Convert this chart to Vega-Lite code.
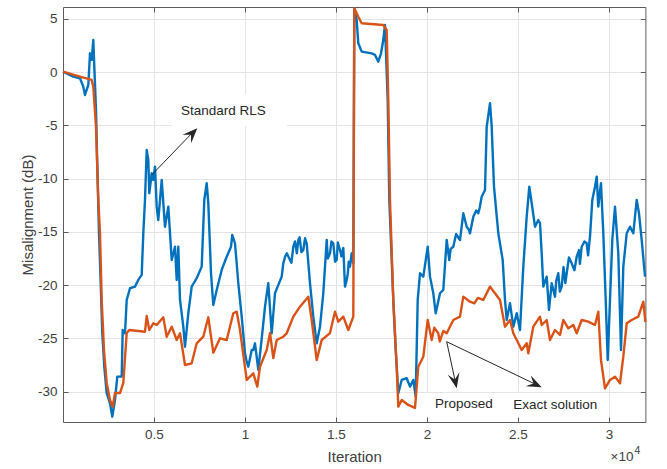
{
  "$schema": "https://vega.github.io/schema/vega-lite/v6.json",
  "width": 582.4,
  "height": 415,
  "autosize": {"type": "none"},
  "padding": {"left": 63, "top": 7, "right": 21.6, "bottom": 47},
  "background": "white",
  "config": {
    "view": {"stroke": null},
    "font": "Liberation Sans",
    "axis": {"labelFont": "Liberation Sans", "titleFont": "Liberation Sans"}
  },
  "datasets": {
    "rls": [
      {"x":0,"y":0.05},{"x":566,"y":-0.42},{"x":934,"y":-0.57},{"x":1115,"y":-1.36},{"x":1209,"y":-2.14},{"x":1390,"y":-1.2},{"x":1484,"y":1.77},{"x":1577,"y":1.15},{"x":1665,"y":3.02},{"x":1720,"y":0.52},{"x":1813,"y":-3.55},{"x":1885,"y":-8.87},{"x":1978,"y":-15.13},{"x":2071,"y":-19.82},{"x":2159,"y":-24.52},{"x":2269,"y":-27.66},{"x":2401,"y":-30.15},{"x":2582,"y":-31.09},{"x":2709,"y":-32.35},{"x":2857,"y":-30.78},{"x":2983,"y":-28.59},{"x":3225,"y":-28.59},{"x":3280,"y":-24.21},{"x":3407,"y":-24.52},{"x":3500,"y":-21.39},{"x":3681,"y":-20.29},{"x":3956,"y":-20.14},{"x":4137,"y":-19.51},{"x":4324,"y":-19.04},{"x":4412,"y":-15.13},{"x":4505,"y":-12.0},{"x":4599,"y":-7.31},{"x":4687,"y":-8.24},{"x":4742,"y":-11.37},{"x":4874,"y":-9.49},{"x":4962,"y":-10.12},{"x":5055,"y":-8.87},{"x":5148,"y":-12.63},{"x":5236,"y":-13.88},{"x":5423,"y":-10.12},{"x":5604,"y":-14.51},{"x":5786,"y":-12.63},{"x":5973,"y":-17.64},{"x":6154,"y":-16.39},{"x":6247,"y":-19.51},{"x":6335,"y":-16.39},{"x":6429,"y":-21.39},{"x":6610,"y":-23.9},{"x":6703,"y":-25.78},{"x":6885,"y":-22.64},{"x":7071,"y":-20.14},{"x":7346,"y":-19.35},{"x":7621,"y":-18.26},{"x":7764,"y":-12.0},{"x":7896,"y":-10.43},{"x":7984,"y":-12.31},{"x":8132,"y":-18.88},{"x":8258,"y":-21.86},{"x":8445,"y":-20.45},{"x":8720,"y":-18.57},{"x":8994,"y":-17.33},{"x":9231,"y":-16.39},{"x":9302,"y":-15.29},{"x":9451,"y":-16.07},{"x":9632,"y":-19.82},{"x":9819,"y":-22.96},{"x":10000,"y":-26.4},{"x":10093,"y":-27.19},{"x":10181,"y":-27.66},{"x":10368,"y":-26.09},{"x":10456,"y":-26.09},{"x":10549,"y":-25.46},{"x":10730,"y":-27.96},{"x":10934,"y":-24.77},{"x":11099,"y":-22.02},{"x":11280,"y":-19.82},{"x":11467,"y":-24.52},{"x":11648,"y":-20.76},{"x":12016,"y":-19.2},{"x":12100,"y":-18.0},{"x":12198,"y":-17.33},{"x":12300,"y":-17.0},{"x":12472,"y":-17.64},{"x":12550,"y":-17.9},{"x":12654,"y":-16.39},{"x":12750,"y":-15.9},{"x":12850,"y":-17.0},{"x":12929,"y":-15.76},{"x":13000,"y":-15.5},{"x":13100,"y":-16.9},{"x":13203,"y":-16.7},{"x":13300,"y":-15.6},{"x":13390,"y":-16.07},{"x":13571,"y":-19.82},{"x":13753,"y":-22.96},{"x":13940,"y":-25.46},{"x":14121,"y":-23.9},{"x":14302,"y":-20.76},{"x":14489,"y":-15.76},{"x":14550,"y":-17.5},{"x":14670,"y":-17.01},{"x":14750,"y":-15.9},{"x":14852,"y":-16.07},{"x":14950,"y":-17.8},{"x":15038,"y":-17.64},{"x":15100,"y":-16.0},{"x":15220,"y":-16.7},{"x":15300,"y":-17.3},{"x":15400,"y":-16.5},{"x":15495,"y":-20.14},{"x":15588,"y":-19.51},{"x":15650,"y":-18.9},{"x":15700,"y":-17.8},{"x":15769,"y":-18.26},{"x":15863,"y":-17.01},{"x":15951,"y":-17.95},{"x":16006,"y":6.0},{"x":16137,"y":4.9},{"x":16225,"y":2.71},{"x":16412,"y":1.93},{"x":16962,"y":1.77},{"x":17143,"y":1.62},{"x":17324,"y":0.99},{"x":17473,"y":1.77},{"x":17599,"y":3.02},{"x":17692,"y":4.43},{"x":17841,"y":-2.61},{"x":17929,"y":-12.0},{"x":18148,"y":-21.39},{"x":18280,"y":-26.09},{"x":18423,"y":-30.15},{"x":18610,"y":-28.9},{"x":18885,"y":-28.74},{"x":19066,"y":-29.53},{"x":19247,"y":-28.9},{"x":19379,"y":-30.47},{"x":19489,"y":-21.39},{"x":19615,"y":-18.88},{"x":19797,"y":-19.2},{"x":20039,"y":-16.39},{"x":20165,"y":-19.2},{"x":20346,"y":-20.76},{"x":20478,"y":-22.64},{"x":20714,"y":-20.76},{"x":20896,"y":-20.45},{"x":21082,"y":-15.76},{"x":21225,"y":-17.64},{"x":21300,"y":-16.6},{"x":21445,"y":-16.39},{"x":21600,"y":-15.2},{"x":21813,"y":-15.76},{"x":21995,"y":-13.25},{"x":22181,"y":-14.51},{"x":22300,"y":-14.8},{"x":22363,"y":-15.13},{"x":22544,"y":-13.57},{"x":22700,"y":-13.0},{"x":22819,"y":-13.25},{"x":22900,"y":-12.7},{"x":23005,"y":-11.69},{"x":23187,"y":-11.06},{"x":23280,"y":-5.12},{"x":23462,"y":-2.92},{"x":23555,"y":-5.12},{"x":23681,"y":-10.75},{"x":23918,"y":-15.13},{"x":24159,"y":-17.64},{"x":24286,"y":-21.39},{"x":24379,"y":-23.27},{"x":24560,"y":-21.7},{"x":24742,"y":-23.9},{"x":24929,"y":-22.64},{"x":25110,"y":-24.21},{"x":25291,"y":-18.26},{"x":25478,"y":-13.57},{"x":25621,"y":-10.75},{"x":25753,"y":-12.31},{"x":25934,"y":-14.51},{"x":26116,"y":-13.88},{"x":26209,"y":-14.19},{"x":26302,"y":-17.01},{"x":26390,"y":-20.14},{"x":26577,"y":-19.2},{"x":26703,"y":-22.33},{"x":26852,"y":-19.82},{"x":27033,"y":-21.08},{"x":27100,"y":-19.6},{"x":27214,"y":-18.88},{"x":27300,"y":-20.6},{"x":27401,"y":-20.14},{"x":27500,"y":-18.3},{"x":27600,"y":-19.8},{"x":27676,"y":-18.88},{"x":27800,"y":-17.4},{"x":27950,"y":-17.95},{"x":28100,"y":-18.6},{"x":28225,"y":-17.33},{"x":28350,"y":-16.7},{"x":28400,"y":-18.0},{"x":28500,"y":-16.39},{"x":28650,"y":-15.9},{"x":28774,"y":-16.07},{"x":28850,"y":-17.2},{"x":28956,"y":-15.45},{"x":29082,"y":-12.0},{"x":29231,"y":-10.75},{"x":29324,"y":-9.81},{"x":29412,"y":-12.63},{"x":29560,"y":-10.43},{"x":29687,"y":-15.13},{"x":29819,"y":-21.39},{"x":29929,"y":-27.03},{"x":30055,"y":-21.39},{"x":30181,"y":-15.76},{"x":30330,"y":-12.63},{"x":30511,"y":-17.01},{"x":30659,"y":-26.09},{"x":30786,"y":-18.26},{"x":30973,"y":-15.13},{"x":31154,"y":-14.51},{"x":31335,"y":-15.13},{"x":31522,"y":-12.0},{"x":31648,"y":-13.25},{"x":31797,"y":-15.76},{"x":31978,"y":-19.2}
    ],
    "proposed": [
      {"x":0,"y":0.05},{"x":934,"y":-0.42},{"x":1577,"y":-0.73},{"x":1665,"y":-1.36},{"x":1813,"y":-5.12},{"x":1940,"y":-12.0},{"x":2033,"y":-15.1},{"x":2126,"y":-21.39},{"x":2253,"y":-26.09},{"x":2401,"y":-29.18},{"x":2582,"y":-30.78},{"x":2731,"y":-31.41},{"x":2857,"y":-30.13},{"x":3132,"y":-30.13},{"x":3313,"y":-29.18},{"x":3500,"y":-24.5},{"x":3643,"y":-24.21},{"x":4505,"y":-24.37},{"x":4599,"y":-22.9},{"x":4742,"y":-24.21},{"x":4962,"y":-23.58},{"x":5148,"y":-23.74},{"x":5511,"y":-23.02},{"x":5698,"y":-24.84},{"x":5973,"y":-23.9},{"x":6247,"y":-25.15},{"x":6429,"y":-24.52},{"x":6703,"y":-27.5},{"x":7071,"y":-27.34},{"x":7346,"y":-25.46},{"x":7709,"y":-24.84},{"x":7984,"y":-23.02},{"x":8258,"y":-26.34},{"x":8626,"y":-24.99},{"x":8994,"y":-25.15},{"x":9357,"y":-22.64},{"x":9544,"y":-22.49},{"x":9725,"y":-24.21},{"x":10093,"y":-28.9},{"x":10456,"y":-28.28},{"x":10676,"y":-29.53},{"x":10824,"y":-27.66},{"x":11192,"y":-26.09},{"x":11374,"y":-24.5},{"x":11555,"y":-26.85},{"x":11742,"y":-25.15},{"x":12104,"y":-24.84},{"x":12291,"y":-24.52},{"x":12654,"y":-22.96},{"x":13022,"y":-22.02},{"x":13478,"y":-21.08},{"x":13665,"y":-23.27},{"x":13940,"y":-27.03},{"x":14214,"y":-25.15},{"x":14670,"y":-24.5},{"x":14945,"y":-22.49},{"x":15126,"y":-23.43},{"x":15401,"y":-22.96},{"x":15676,"y":-24.21},{"x":15951,"y":-22.96},{"x":16006,"y":6.0},{"x":16225,"y":5.21},{"x":16412,"y":4.59},{"x":17599,"y":4.43},{"x":17786,"y":3.96},{"x":17874,"y":-2.61},{"x":17967,"y":-12.0},{"x":18148,"y":-21.39},{"x":18335,"y":-27.66},{"x":18423,"y":-31.41},{"x":18610,"y":-30.78},{"x":18972,"y":-31.25},{"x":19340,"y":-31.53},{"x":19522,"y":-27.66},{"x":19797,"y":-26.72},{"x":20039,"y":-23.27},{"x":20258,"y":-25.15},{"x":20400,"y":-24.0},{"x":20621,"y":-24.52},{"x":20700,"y":-25.3},{"x":20900,"y":-24.3},{"x":21082,"y":-24.52},{"x":21445,"y":-23.27},{"x":21813,"y":-22.96},{"x":21995,"y":-21.08},{"x":22363,"y":-21.55},{"x":22600,"y":-21.7},{"x":22800,"y":-21.2},{"x":23093,"y":-21.39},{"x":23462,"y":-20.14},{"x":23736,"y":-20.76},{"x":24011,"y":-21.39},{"x":24286,"y":-23.9},{"x":24560,"y":-23.27},{"x":24742,"y":-24.52},{"x":25203,"y":-26.09},{"x":25478,"y":-25.46},{"x":25566,"y":-26.4},{"x":25841,"y":-23.9},{"x":26209,"y":-22.96},{"x":26302,"y":-23.74},{"x":26577,"y":-23.27},{"x":26758,"y":-25.15},{"x":27033,"y":-24.21},{"x":27308,"y":-24.68},{"x":27489,"y":-23.27},{"x":27764,"y":-24.05},{"x":28039,"y":-23.74},{"x":28225,"y":-24.52},{"x":28500,"y":-23.27},{"x":28863,"y":-23.43},{"x":29231,"y":-23.74},{"x":29412,"y":-22.49},{"x":29560,"y":-27.03},{"x":29780,"y":-29.69},{"x":30055,"y":-28.9},{"x":30330,"y":-28.59},{"x":30604,"y":-29.21},{"x":30786,"y":-26.72},{"x":30973,"y":-23.58},{"x":31247,"y":-23.27},{"x":31610,"y":-22.96},{"x":31885,"y":-21.55},{"x":32000,"y":-23.46}
    ]
  },
  "resolve": {"axis": {"x": "independent", "y": "independent"}},
  "layer": [
    {
      "data": {"name": "rls"},
      "mark": {"type": "line", "color": "#0072BD", "strokeWidth": 2.4, "strokeJoin": "round"},
      "encoding": {
        "x": {"field": "x", "type": "quantitative",
          "scale": {"domain": [0, 32000], "nice": false, "zero": false},
          "axis": {"orient": "bottom", "values": [5000, 10000, 15000, 20000, 25000, 30000],
            "labelExpr": "format(datum.value / 10000, '~g')",
            "title": "Iteration", "grid": true, "gridColor": "#e4e4e4", "gridWidth": 1,
            "tickSize": -5, "labelPadding": 10, "domainColor": "#5c5c5c", "tickColor": "#5c5c5c",
            "labelFontSize": 13.5, "labelColor": "#404040", "titleFontSize": 15, "titleColor": "#404040",
            "titleFontWeight": "normal", "titleY": 34, "titleBaseline": "middle"}},
        "y": {"field": "y", "type": "quantitative",
          "scale": {"domain": [-32.85, 6.12], "nice": false, "zero": false},
          "axis": {"orient": "left", "values": [-30, -25, -20, -15, -10, -5, 0, 5],
            "labelExpr": "'' + datum.value",
            "title": "Misalignment (dB)", "grid": true, "gridColor": "#e4e4e4", "gridWidth": 1,
            "tickSize": -5, "labelPadding": 11, "domainColor": "#5c5c5c", "tickColor": "#5c5c5c",
            "labelFontSize": 13.5, "labelColor": "#404040", "titleFontSize": 15, "titleColor": "#404040",
            "titleFontWeight": "normal", "titleX": -36, "titleY": 207.5, "titleAngle": -90, "titleBaseline": "middle"}}
      }
    },
    {
      "data": {"name": "proposed"},
      "mark": {"type": "line", "color": "#D95319", "strokeWidth": 2.4, "strokeJoin": "round"},
      "encoding": {
        "x": {"field": "x", "type": "quantitative",
          "axis": {"orient": "top", "values": [5000, 10000, 15000, 20000, 25000, 30000], "labels": false, "title": null,
            "grid": false, "tickSize": -5, "domainColor": "#5c5c5c", "tickColor": "#5c5c5c"}},
        "y": {"field": "y", "type": "quantitative",
          "axis": {"orient": "right", "values": [-30, -25, -20, -15, -10, -5, 0, 5], "labels": false, "title": null,
            "grid": false, "tickSize": -5, "domainColor": "#5c5c5c", "tickColor": "#5c5c5c"}}
      }
    },
    {
      "data": {"values": [{}]},
      "mark": {"type": "rect", "color": "white"},
      "encoding": {"x": {"datum": 5989, "type": "quantitative", "axis": null}, "x2": {"datum": 12308},
        "y": {"datum": -2.05, "type": "quantitative", "axis": null}, "y2": {"datum": -5.05}}
    },
    {
      "data": {"values": [{}]},
      "mark": {"type": "rect", "color": "white"},
      "encoding": {"x": {"datum": 19835, "type": "quantitative", "axis": null}, "x2": {"datum": 24176},
        "y": {"datum": -30.12, "type": "quantitative", "axis": null}, "y2": {"datum": -32.38}}
    },
    {
      "data": {"values": [{}]},
      "mark": {"type": "rect", "color": "white"},
      "encoding": {"x": {"datum": 24286, "type": "quantitative", "axis": null}, "x2": {"datum": 29835},
        "y": {"datum": -30.12, "type": "quantitative", "axis": null}, "y2": {"datum": -32.38}}
    },
    {
      "data": {"values": [{}]},
      "mark": {"type": "rule", "color": "#262626", "strokeWidth": 1},
      "encoding": {"x": {"datum": 4874, "type": "quantitative", "axis": null}, "y": {"datum": -9.65, "type": "quantitative", "axis": null},
        "x2": {"datum": 7300}, "y2": {"datum": -5.35}}
    },
    {
      "data": {"values": [{}]},
      "mark": {"type": "rule", "color": "#262626", "strokeWidth": 1},
      "encoding": {"x": {"datum": 21082, "type": "quantitative", "axis": null}, "y": {"datum": -25.31, "type": "quantitative", "axis": null},
        "x2": {"datum": 21610}, "y2": {"datum": -29.5}}
    },
    {
      "data": {"values": [{}]},
      "mark": {"type": "rule", "color": "#262626", "strokeWidth": 1},
      "encoding": {"x": {"datum": 21082, "type": "quantitative", "axis": null}, "y": {"datum": -25.31, "type": "quantitative", "axis": null},
        "x2": {"datum": 26200}, "y2": {"datum": -29.5}}
    },
    {
      "data": {"values": [{}]},
      "mark": {"type": "point", "shape": "M0,0L0.4,1L0,0.6L-0.4,1Z", "size": 900, "filled": true, "color": "#262626", "opacity": 1, "angle": 44.3},
      "encoding": {"x": {"datum": 7379, "type": "quantitative", "axis": null}, "y": {"datum": -5.27, "type": "quantitative", "axis": null}}
    },
    {
      "data": {"values": [{}]},
      "mark": {"type": "point", "shape": "M0,0L0.4,1L0,0.6L-0.4,1Z", "size": 900, "filled": true, "color": "#262626", "opacity": 1, "angle": 167.9},
      "encoding": {"x": {"datum": 21632, "type": "quantitative", "axis": null}, "y": {"datum": -29.68, "type": "quantitative", "axis": null}}
    },
    {
      "data": {"values": [{}]},
      "mark": {"type": "point", "shape": "M0,0L0.4,1L0,0.6L-0.4,1Z", "size": 900, "filled": true, "color": "#262626", "opacity": 1, "angle": 115.6},
      "encoding": {"x": {"datum": 26302, "type": "quantitative", "axis": null}, "y": {"datum": -29.59, "type": "quantitative", "axis": null}}
    },
    {
      "data": {"values": [{"label": "Standard RLS", "x": 8813, "y": -3.62}, {"label": "Proposed", "x": 22022, "y": -31.16}, {"label": "Exact solution", "x": 27044, "y": -31.25}]},
      "mark": {"type": "text", "fontSize": 13.5, "color": "#262626", "align": "center", "baseline": "middle", "font": "Liberation Sans"},
      "encoding": {"x": {"field": "x", "type": "quantitative", "axis": null}, "y": {"field": "y", "type": "quantitative", "axis": null}, "text": {"field": "label"}}
    },
    {
      "data": {"values": [{}]},
      "mark": {"type": "text", "fontSize": 13.5, "color": "#404040", "align": "center", "baseline": "middle", "text": "×10"},
      "encoding": {"x": {"datum": 30714, "type": "quantitative", "axis": null}, "y": {"datum": -36.11, "type": "quantitative", "axis": null}}
    },
    {
      "data": {"values": [{}]},
      "mark": {"type": "text", "fontSize": 10.5, "color": "#404040", "align": "center", "baseline": "middle", "text": "4"},
      "encoding": {"x": {"datum": 31566, "type": "quantitative", "axis": null}, "y": {"datum": -35.55, "type": "quantitative", "axis": null}}
    }
  ]
}
